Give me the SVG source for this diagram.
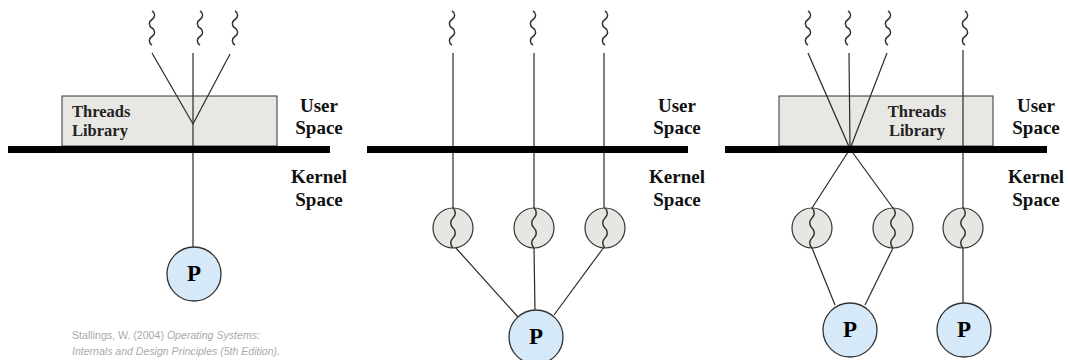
<svg xmlns="http://www.w3.org/2000/svg" xmlns:xlink="http://www.w3.org/1999/xlink" width="1068" height="360" viewBox="0 0 1068 360">
<style>
.ln{stroke:#2a2a2a;stroke-width:1.2;fill:none}
.sq{stroke:#333;stroke-width:1.5;fill:none}
.bar{fill:#000}
.box{fill:#e9e7e4;stroke:#333;stroke-width:1}
.kt{fill:#e8e6e3;stroke:#333;stroke-width:1.2}
.pc{fill:#d6e9f8;stroke:#333;stroke-width:1.3}
.lbl{font-family:"Liberation Serif","Times New Roman",serif;font-weight:bold;font-size:19px;fill:#111;text-anchor:middle}
.lib{font-family:"Liberation Serif","Times New Roman",serif;font-weight:bold;font-size:16.5px;fill:#222}
.p{font-family:"Liberation Serif","Times New Roman",serif;font-weight:bold;font-size:23px;fill:#000;text-anchor:middle}
.cit{font-family:"Liberation Sans",Arial,sans-serif;font-size:11px;fill:#aaa}
</style>
<defs>
<path id="wave" class="sq" d="M0,0 c3.5,2 3.5,6.5 0,8.5 c-3.5,2 -3.5,6.5 0,8.5 c3.5,2 3.5,6.5 0,8.5 c-3.5,2 -3.5,6.5 0,8.5"/>
<path id="kwave" class="sq" d="M0,0 c3,2.5 3,7.5 0,10 c-3,2.5 -3,7.5 0,10 c3,2.5 3,7.5 0,10 c-3,2.5 -3,7.5 0,10"/>
</defs>

<!-- Panel 1: many-to-one -->
<g id="panel1">
  <g id="p1-library"><rect class="box" x="62" y="96" width="215" height="50"/>
    <text class="lib" x="72" y="117">Threads</text><text class="lib" x="72" y="136">Library</text></g>
  <g id="p1-threads">
    <use href="#wave" x="152" y="11"/><use href="#wave" x="200" y="11"/><use href="#wave" x="235" y="11"/>
  </g>
  <g id="p1-connectors">
    <line class="ln" x1="152" y1="53" x2="193" y2="124"/>
    <line class="ln" x1="230" y1="54" x2="193" y2="124"/>
    <line class="ln" x1="193" y1="53" x2="193" y2="247"/>
  </g>
  <rect class="bar" x="8" y="146" width="322" height="7"/>
  <g id="p1-process"><circle class="pc" cx="194" cy="274" r="27"/><text class="p" x="194" y="281">P</text></g>
  <g id="p1-labels">
    <text class="lbl" x="319" y="112">User</text><text class="lbl" x="319" y="134">Space</text>
    <text class="lbl" x="319" y="183">Kernel</text><text class="lbl" x="319" y="206">Space</text>
  </g>
</g>

<!-- Panel 2: one-to-one -->
<g id="panel2">
  <g id="p2-threads">
    <use href="#wave" x="452" y="11"/><use href="#wave" x="533" y="11"/><use href="#wave" x="605" y="11"/>
  </g>
  <g id="p2-connectors">
    <line class="ln" x1="453" y1="53" x2="453" y2="208"/>
    <line class="ln" x1="534" y1="53" x2="534" y2="208"/>
    <line class="ln" x1="604" y1="53" x2="604" y2="208"/>
    <line class="ln" x1="455" y1="247" x2="518" y2="317"/>
    <line class="ln" x1="534" y1="248" x2="535" y2="310"/>
    <line class="ln" x1="604" y1="247" x2="554" y2="315"/>
  </g>
  <rect class="bar" x="367" y="146" width="321" height="7"/>
  <g id="p2-kt1"><circle class="kt" cx="453" cy="228" r="20"/><use href="#kwave" x="453" y="208"/></g>
  <g id="p2-kt2"><circle class="kt" cx="534" cy="228" r="20"/><use href="#kwave" x="534" y="208"/></g>
  <g id="p2-kt3"><circle class="kt" cx="605" cy="228" r="20"/><use href="#kwave" x="605" y="208"/></g>
  <g id="p2-process"><circle class="pc" cx="536" cy="337" r="27"/><text class="p" x="536" y="344">P</text></g>
  <g id="p2-labels">
    <text class="lbl" x="677" y="112">User</text><text class="lbl" x="677" y="134">Space</text>
    <text class="lbl" x="677" y="183">Kernel</text><text class="lbl" x="677" y="206">Space</text>
  </g>
</g>

<!-- Panel 3: combined -->
<g id="panel3">
  <g id="p3-library"><rect class="box" x="779" y="96" width="214" height="50"/>
    <text class="lib" x="917" y="117" text-anchor="middle">Threads</text><text class="lib" x="917" y="136" text-anchor="middle">Library</text></g>
  <g id="p3-threads">
    <use href="#wave" x="808" y="11"/><use href="#wave" x="848" y="11"/><use href="#wave" x="888" y="11"/><use href="#wave" x="965" y="11"/>
  </g>
  <g id="p3-connectors">
    <line class="ln" x1="808" y1="53" x2="850" y2="149"/>
    <line class="ln" x1="849" y1="53" x2="850" y2="149"/>
    <line class="ln" x1="887" y1="53" x2="850" y2="149"/>
    <line class="ln" x1="850" y1="149" x2="812" y2="208"/>
    <line class="ln" x1="850" y1="149" x2="893" y2="208"/>
    <line class="ln" x1="963" y1="50" x2="963" y2="208"/>
    <line class="ln" x1="812" y1="248" x2="835" y2="305"/>
    <line class="ln" x1="893" y1="248" x2="865" y2="305"/>
    <line class="ln" x1="963" y1="248" x2="963" y2="303"/>
  </g>
  <rect class="bar" x="725" y="146" width="322" height="7"/>
  <g id="p3-kt1"><circle class="kt" cx="812" cy="228" r="20"/><use href="#kwave" x="812" y="208"/></g>
  <g id="p3-kt2"><circle class="kt" cx="893" cy="228" r="20"/><use href="#kwave" x="893" y="208"/></g>
  <g id="p3-kt3"><circle class="kt" cx="963" cy="228" r="20"/><use href="#kwave" x="963" y="208"/></g>
  <g id="p3-process1"><circle class="pc" cx="850" cy="330" r="27"/><text class="p" x="850" y="337">P</text></g>
  <g id="p3-process2"><circle class="pc" cx="964" cy="330" r="27"/><text class="p" x="964" y="337">P</text></g>
  <g id="p3-labels">
    <text class="lbl" x="1036" y="112">User</text><text class="lbl" x="1036" y="134">Space</text>
    <text class="lbl" x="1036" y="183">Kernel</text><text class="lbl" x="1036" y="206">Space</text>
  </g>
</g>

<g id="citation">
  <text class="cit" x="72" y="339" textLength="188" lengthAdjust="spacingAndGlyphs">Stallings, W. (2004) <tspan font-style="italic">Operating Systems:</tspan></text>
  <text class="cit" x="72" y="355" font-style="italic" textLength="208" lengthAdjust="spacingAndGlyphs">Internals and Design Principles (5th Edition).</text>
</g>
</svg>
